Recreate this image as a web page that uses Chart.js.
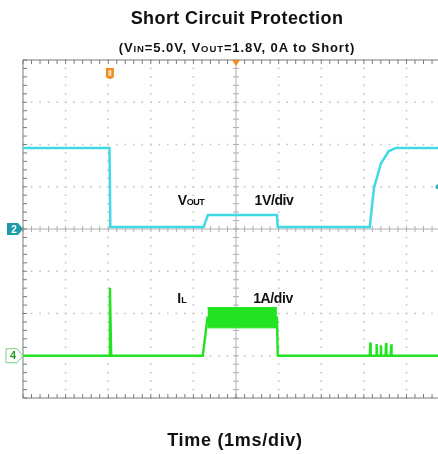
<!DOCTYPE html>
<html>
<head>
<meta charset="utf-8">
<script src="https://cdn.jsdelivr.net/npm/chart.js@4"></script>
<style>
  body { margin: 0; background: #fff; font-family: "Liberation Sans", Arial, sans-serif; }
  #wrap { position: relative; width: 438px; height: 454px; overflow: hidden; }
  canvas { position: absolute; left: 0; top: 0; }
  .t { position: absolute; transform: translate(-50%, -50%); white-space: nowrap; font-weight: bold; color: #111; }
  .sub { font-size: 9.5px; }
</style>
</head>
<body>
<div id="wrap">
  <canvas id="scope" width="438" height="454"></canvas>
  <div class="t" style="left:237px;top:18px;font-size:18px;letter-spacing:0.4px;">Short Circuit Protection</div>
  <div class="t" style="left:237px;top:47px;font-size:13px;letter-spacing:0.9px;">(V<span class="sub">IN</span>=5.0V, V<span class="sub">OUT</span>=1.8V, 0A to Short)</div>
  <div class="t" style="left:191px;top:200px;font-size:14px;letter-spacing:-0.5px;">V<span style="font-size:9px;">OUT</span></div>
  <div class="t" style="left:274px;top:200px;font-size:14px;letter-spacing:-0.4px;">1V/div</div>
  <div class="t" style="left:182px;top:298px;font-size:14px;">I<span style="font-size:9px;">L</span></div>
  <div class="t" style="left:273px;top:298px;font-size:14px;letter-spacing:-0.4px;">1A/div</div>
  <div class="t" style="left:14px;top:229px;font-size:10px;color:#fff;">2</div>
  <div class="t" style="left:13px;top:355px;font-size:11px;color:#2a9a2a;">4</div>
  <div class="t" style="left:235px;top:440px;font-size:18px;letter-spacing:0.7px;">Time (1ms/div)</div>
</div>
<script>
// 1 ms per division, Vout 1 V/div, IL 1 A/div
const ch2Time = [0, 2.03, 2.05, 4.24, 4.34, 5.96, 5.98, 8.14, 8.17, 8.24, 8.40, 8.58, 8.75, 9.74];
const ch2Volts = [1.92, 1.92, 0.05, 0.05, 0.33, 0.33, 0.05, 0.05, 0.35, 0.98, 1.55, 1.84, 1.92, 1.92];

const ch4Time = [0, 2.03, 2.04, 2.07, 4.22, 4.33, 5.96, 5.98, 8.14, 8.15, 8.16, 8.29, 8.30, 8.31, 8.39, 8.40, 8.41, 8.51, 8.52, 8.53, 8.63, 8.64, 8.65, 9.74];
const ch4Amps = [0, 0, 1.61, 0, 0, 0.9, 0.9, 0, 0, 0.31, 0, 0, 0.28, 0, 0, 0.25, 0, 0, 0.3, 0, 0, 0.27, 0, 0];

// switching ripple envelope of IL while shorted
const bandTime = [4.33, 5.96];
const bandHigh = [1.14, 1.14];
const bandLow = [0.66, 0.66];

// ch2 trigger level marker (V)
const ch2TrigLevel = 1.0;

const pts = (xs, ys) => xs.map((t, i) => ({ x: t, y: ys[i] }));

const cyan = 'rgb(64, 218, 230)';
const green = 'rgb(34, 226, 34)';

const scopeGrid = {
  id: 'scopeGrid',
  beforeDatasetsDraw(chart) {
    const { ctx, chartArea: a, scales: { x, y } } = chart;
    ctx.save();
    ctx.fillStyle = '#c4c4c4';
    // dotted graticule
    for (let i = 1; i <= 9; i++) {
      if (i === 5) continue;
      const px = x.getPixelForValue(i);
      for (let k = 0; k <= 40; k++) {
        const py = y.getPixelForValue(-4 + k * 0.2);
        ctx.fillRect(px - 0.8, py - 0.8, 1.6, 1.6);
      }
    }
    for (let j = -3; j <= 3; j++) {
      if (j === 0) continue;
      const py = y.getPixelForValue(j);
      for (let k = 0; k <= 49; k++) {
        const px = x.getPixelForValue(k * 0.2);
        ctx.fillRect(px - 0.8, py - 0.8, 1.6, 1.6);
      }
    }
    // centre axes with minor ticks
    ctx.strokeStyle = '#b0b0b0';
    ctx.lineWidth = 1;
    const cx = x.getPixelForValue(5), cy = y.getPixelForValue(0);
    ctx.beginPath();
    ctx.moveTo(cx, a.top); ctx.lineTo(cx, a.bottom);
    ctx.moveTo(a.left, cy); ctx.lineTo(a.right, cy);
    for (let k = 0; k <= 40; k++) {
      const py = y.getPixelForValue(-4 + k * 0.2);
      ctx.moveTo(cx - 3, py); ctx.lineTo(cx + 3, py);
    }
    for (let k = 0; k <= 49; k++) {
      const px = x.getPixelForValue(k * 0.2);
      ctx.moveTo(px, cy - 3); ctx.lineTo(px, cy + 3);
    }
    ctx.stroke();
    // frame with inward ticks
    ctx.strokeStyle = '#7a7a7a';
    ctx.beginPath();
    ctx.moveTo(a.left, a.top); ctx.lineTo(a.left, a.bottom);
    ctx.moveTo(a.left, a.top); ctx.lineTo(a.right, a.top);
    ctx.moveTo(a.left, a.bottom); ctx.lineTo(a.right, a.bottom);
    for (let k = 0; k <= 40; k++) {
      const py = y.getPixelForValue(-4 + k * 0.2);
      ctx.moveTo(a.left, py); ctx.lineTo(a.left + 4, py);
    }
    for (let k = 0; k <= 49; k++) {
      const px = x.getPixelForValue(k * 0.2);
      ctx.moveTo(px, a.top); ctx.lineTo(px, a.top + 4);
      ctx.moveTo(px, a.bottom); ctx.lineTo(px, a.bottom - 4);
    }
    ctx.stroke();
    ctx.restore();
  },
  afterDraw(chart) {
    const { ctx, chartArea: a, scales: { x, y, y2 } } = chart;
    ctx.save();
    // channel ground markers
    const g2 = y.getPixelForValue(0);
    ctx.fillStyle = '#1f9aa8';
    ctx.beginPath();
    ctx.moveTo(7, g2 - 6); ctx.lineTo(18, g2 - 6); ctx.lineTo(23, g2);
    ctx.lineTo(18, g2 + 6); ctx.lineTo(7, g2 + 6); ctx.closePath();
    ctx.fill();
    const g4 = y2.getPixelForValue(0);
    ctx.fillStyle = '#fff';
    ctx.strokeStyle = '#7ccf7c';
    ctx.beginPath();
    ctx.moveTo(6, g4 - 7); ctx.lineTo(17, g4 - 7); ctx.lineTo(23, g4);
    ctx.lineTo(17, g4 + 7); ctx.lineTo(6, g4 + 7); ctx.closePath();
    ctx.fill(); ctx.stroke();
    // trigger level marker at right edge
    ctx.fillStyle = '#2ab8c4';
    ctx.beginPath();
    ctx.arc(a.right, y.getPixelForValue(ch2TrigLevel), 2.5, 0, Math.PI * 2);
    ctx.fill();
    // trigger markers
    ctx.fillStyle = '#f08c28';
    const tx = x.getPixelForValue(2.04);
    ctx.beginPath();
    ctx.moveTo(tx - 4, a.top + 8); ctx.lineTo(tx + 4, a.top + 8);
    ctx.lineTo(tx + 4, a.top + 17); ctx.quadraticCurveTo(tx, a.top + 21, tx - 4, a.top + 17);
    ctx.closePath(); ctx.fill();
    ctx.fillStyle = '#fbd2a4';
    ctx.fillRect(tx - 1.5, a.top + 10, 3, 6);
    ctx.fillStyle = '#f08c28';
    const px = x.getPixelForValue(5);
    ctx.beginPath();
    ctx.moveTo(px - 4, a.top); ctx.lineTo(px + 4, a.top); ctx.lineTo(px, a.top + 6);
    ctx.closePath(); ctx.fill();
    ctx.restore();
  }
};

new Chart(document.getElementById('scope'), {
  type: 'line',
  data: {
    datasets: [
      { data: pts(bandTime, bandHigh), yAxisID: 'y2', borderColor: green, borderWidth: 1, fill: false },
      { data: pts(bandTime, bandLow), yAxisID: 'y2', borderColor: green, borderWidth: 1, backgroundColor: green, fill: '-1' },
      { data: pts(ch4Time, ch4Amps), yAxisID: 'y2', borderColor: green, borderWidth: 2.4 },
      { data: pts(ch2Time, ch2Volts), yAxisID: 'y', borderColor: cyan, borderWidth: 2.5 }
    ]
  },
  options: {
    responsive: false,
    animation: false,
    events: [],
    layout: { padding: { left: 23, top: 60, right: 0, bottom: 56 } },
    elements: { point: { radius: 0 }, line: { tension: 0 } },
    plugins: { legend: { display: false }, tooltip: { enabled: false } },
    scales: {
      x: { type: 'linear', min: 0, max: 9.74, display: false },
      y: { min: -4, max: 4, display: false },
      y2: { min: -1, max: 7, display: false }
    }
  },
  plugins: [scopeGrid]
});
</script>
</body>
</html>
